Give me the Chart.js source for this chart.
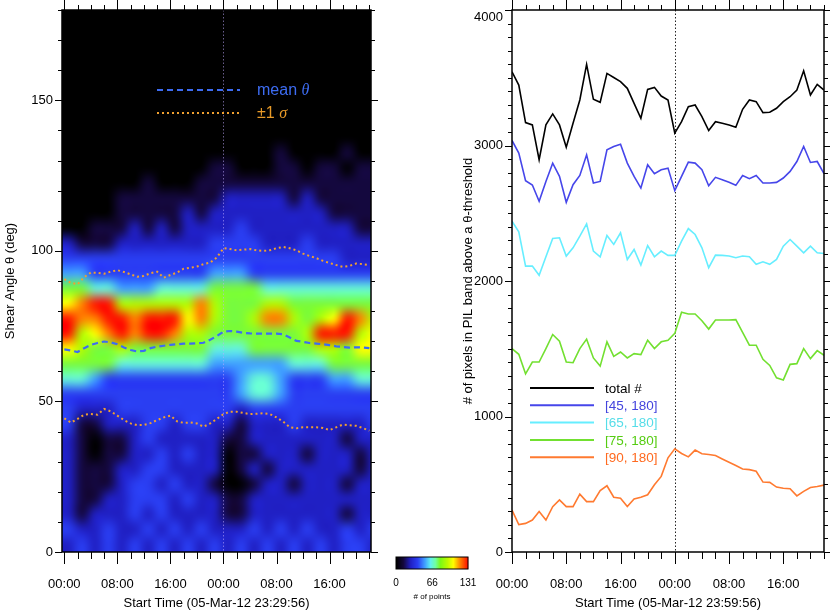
<!DOCTYPE html>
<html>
<head>
<meta charset="utf-8">
<script src="https://cdn.jsdelivr.net/npm/chart.js@4.4.1/dist/chart.umd.min.js"></script>
<style>
  body { margin: 0; background: #fff; width: 830px; height: 615px; position: relative; overflow: hidden; }
  #left { position: absolute; left: 0; top: 0; }
  #right { position: absolute; left: 420px; top: 0; }
</style>
</head>
<body>
<canvas id="left" width="500" height="615"></canvas>
<canvas id="right" width="410" height="615"></canvas>
<script>
// hours after 00:00 of 06-Mar
const hours = [0,1,2,3,4,5,6,7,8,9,10,11,12,13,14,15,16,17,18,19,20,21,22,23,
  24,25,26,27,28,29,30,31,32,33,34,35,36,37,38,39,40,41,42,43,44,45,46];

// right panel: # of pixels above each threshold
const totalCount = [3544,3446,3169,3152,2895,3152,3233,3152,2988,3164,3336,3598,3341,3319,3532,3502,
  3471,3422,3311,3201,3414,3429,3365,3336,3091,3176,3287,3299,3213,3110,3176,3164,3152,3135,3267,3336,
  3324,3243,3245,3275,3324,3360,3409,3551,3373,3451,3409];
const count45 = [3037,2944,2740,2708,2588,2735,2870,2772,2581,2711,2779,2931,2723,2735,2968,2993,
  3010,2870,2772,2686,2858,2792,2821,2833,2667,2772,2877,2870,2821,2703,2765,2748,2728,2706,2779,2755,
  2779,2723,2723,2728,2760,2809,2882,2993,2875,2882,2792];
const count65 = [2441,2363,2110,2110,2042,2179,2314,2319,2184,2245,2331,2422,2221,2179,2336,2270,
  2355,2159,2233,2118,2262,2179,2221,2189,2189,2294,2387,2343,2245,2098,2191,2189,2184,2172,2184,2179,
  2123,2142,2123,2159,2257,2306,2257,2208,2257,2208,2203];
const count75 = [1501,1459,1315,1402,1402,1501,1605,1556,1402,1397,1501,1571,1432,1372,1551,1444,
  1476,1432,1464,1457,1563,1501,1551,1563,1613,1769,1757,1757,1707,1645,1712,1712,1712,1715,1620,1526,
  1526,1422,1377,1285,1270,1385,1390,1501,1427,1486,1452];
const count90 = [310,203,211,236,298,236,335,385,335,335,427,372,372,454,489,404,
  397,335,392,404,422,496,558,695,762,727,702,752,725,720,712,687,663,638,613,608,
  596,516,514,479,471,467,414,447,476,484,494];
const seriesNames = ['total #', '[45, 180]', '[65, 180]', '[75, 180]', '[90, 180]'];

// left panel: mean shear angle and +/- 1 sigma
const meanTheta = [67.3,66.9,66.4,67.7,68.8,69.4,69.9,69.6,69.0,67.9,67.1,66.6,66.8,67.7,68.2,68.5,
  68.8,69.0,69.2,69.2,69.3,69.5,70.5,71.7,73.2,73.4,73.2,72.8,72.6,72.5,72.5,72.5,72.5,72.3,71.2,70.1,
  69.8,69.4,69.2,69.0,68.7,68.3,68.1,67.9,68.0,67.9,67.7];
const sigmaUpper = [90.6,89.4,88.9,91.3,92.8,92.7,92.4,93.1,93.6,93.0,92.2,91.4,91.7,92.6,93.1,91.1,
  92.0,92.8,94.1,94.4,94.8,95.6,96.1,97.8,100.9,100.6,100.2,100.4,100.6,100.2,100.0,100.2,100.9,101.3,
  100.9,100.2,99.1,98.3,97.6,96.7,96.0,95.3,94.7,95.0,95.8,95.6,95.3];
const sigmaLower = [44.4,43.0,44.2,45.6,45.8,45.6,47.5,46.7,45.3,43.8,42.7,42.1,42.2,42.8,43.8,44.7,
  45.3,43.4,42.9,43.0,42.7,41.6,42.7,44.2,45.8,46.6,46.6,46.2,45.8,45.9,46.1,45.8,44.7,43.3,41.4,41.1,
  41.4,41.4,41.4,41.2,40.5,41.4,42.3,42.1,41.9,41.2,40.3];

// 2D histogram: one string per 5-deg angle bin (180 at top), one char per 2-h time bin,
// value = tenths of the max count (0..9, a = 10)
const heatRows = [
  '000000000000000000000000',
  '000000000000000000000000',
  '000000000000000000000000',
  '000000000000000000000000',
  '000000000000000000000000',
  '000000000000000000000000',
  '000000000000000000000000',
  '000000000000000000000000',
  '000000000000000000000000',
  '000000000000000010000100',
  '000000000001100011011011',
  '000000100011111111111111',
  '000011111111222221211111',
  '000011111212222222221111',
  '001112121222232222222211',
  '211122222223333222322222',
  '333333333333333333333222',
  '443333333334443333333333',
  '665544455556666555555555',
  '89aa77777797666776666666',
  'a99aa9aaa897667997678a97',
  'a789a9aa97766666667aaa78',
  '876676666665556666677688',
  '666655555554444445556666',
  '554333333333345543334455',
  '333333333333345543333333',
  '322233333333323333333333',
  '311222332332212223222223',
  '210112322222112222222122',
  '210112232322011222122212',
  '211122332222012122222212',
  '211123323221001221222122',
  '211223332322112222222222',
  '212223232222112222222122',
  '322322323232223232322323',
  '232323232323232323232332'
];
const maxCount = 131;
const angleBin = 5;
const timeBin = 2;
const timeStart = -0.35;

const xTickHours = [0, 8, 16, 24, 32, 40];
const leftYTicks = [0, 50, 100, 150];
const rightYTicks = [0, 1000, 2000, 3000, 4000];
const colorbarTicks = [0, 66, 131];

Chart.defaults.font.family = '"Liberation Sans", Arial, Helvetica, sans-serif';
Chart.defaults.font.size = 13;
Chart.defaults.color = '#000';
Chart.defaults.animation = false;

const hourLabel = v => String(((v % 24) + 24) % 24).padStart(2, '0') + ':00';

const cmapStops = [
  [0.00, [0, 0, 0]],
  [0.10, [20, 8, 62]],
  [0.20, [32, 32, 196]],
  [0.30, [42, 62, 242]],
  [0.40, [64, 160, 255]],
  [0.48, [96, 240, 240]],
  [0.55, [112, 255, 160]],
  [0.62, [124, 250, 20]],
  [0.72, [190, 250, 0]],
  [0.80, [255, 255, 0]],
  [0.88, [255, 150, 0]],
  [1.00, [255, 20, 0]]
];
function colormapRGB(t) {
  t = Math.max(0, Math.min(1, t));
  for (let i = 1; i < cmapStops.length; i++) {
    const [t1, c1] = cmapStops[i];
    const [t0, c0] = cmapStops[i - 1];
    if (t <= t1) {
      const f = (t - t0) / (t1 - t0);
      return c0.map((v, k) => Math.round(v + (c1[k] - v) * f));
    }
  }
  return [255, 20, 0];
}
const colormap = t => { const c = colormapRGB(t); return `rgb(${c[0]},${c[1]},${c[2]})`; };

const toXY = arr => arr.map((v, i) => ({ x: hours[i], y: v }));

// histogram cells -> small image, stretched over the bins' pixel extent
const heatmapPlugin = {
  id: 'heatmap',
  beforeDatasetsDraw(chart) {
    const { ctx, chartArea: a, scales: { x, y } } = chart;
    const cols = heatRows[0].length, rows = heatRows.length;
    const off = document.createElement('canvas');
    off.width = cols;
    off.height = rows;
    const octx = off.getContext('2d');
    const img = octx.createImageData(cols, rows);
    heatRows.forEach((row, r) => {
      for (let c = 0; c < cols; c++) {
        const count = parseInt(row[c], 16) / 10 * maxCount;
        const rgb = colormapRGB(count / maxCount);
        const k = (r * cols + c) * 4;
        img.data[k] = rgb[0]; img.data[k + 1] = rgb[1]; img.data[k + 2] = rgb[2]; img.data[k + 3] = 255;
      }
    });
    octx.putImageData(img, 0, 0);
    const x0 = x.getPixelForValue(timeStart);
    const x1 = x.getPixelForValue(timeStart + cols * timeBin);
    const y0 = y.getPixelForValue(180);
    const y1 = y.getPixelForValue(180 - rows * angleBin);
    ctx.save();
    ctx.beginPath();
    ctx.rect(a.left, a.top, a.width, a.height);
    ctx.clip();
    ctx.imageSmoothingEnabled = true;
    ctx.imageSmoothingQuality = 'high';
    ctx.drawImage(off, x0, y0, x1 - x0, y1 - y0);
    ctx.restore();
  }
};

const midnightLine = color => ({
  id: 'midnight',
  beforeDatasetsDraw(chart) {
    const { ctx, chartArea: a, scales: { x } } = chart;
    const px = Math.round(x.getPixelForValue(24)) + 0.5;
    ctx.save();
    ctx.strokeStyle = color;
    ctx.lineWidth = 1;
    ctx.setLineDash([1.5, 2]);
    ctx.beginPath();
    ctx.moveTo(px, a.top);
    ctx.lineTo(px, a.bottom);
    ctx.stroke();
    ctx.restore();
  }
});

// box with outward major/minor ticks on all four sides
const frame = (xMajor, xMinor, yMajor, yMinor) => ({
  id: 'frame',
  afterDraw(chart) {
    const { ctx, chartArea: a, scales: { x, y } } = chart;
    const seg = (x0, y0, x1, y1) => { ctx.beginPath(); ctx.moveTo(x0, y0); ctx.lineTo(x1, y1); ctx.stroke(); };
    ctx.save();
    ctx.strokeStyle = '#000';
    ctx.lineWidth = 1;
    for (let v = Math.ceil(x.min / xMinor) * xMinor; v <= x.max + 1e-9; v += xMinor) {
      const px = Math.round(x.getPixelForValue(v)) + 0.5;
      const major = Math.abs(v % xMajor) < 1e-9;
      seg(px, a.bottom, px, a.bottom + (major ? 12 : 7));
      seg(px, a.top, px, a.top - (major ? 10 : 5));
    }
    for (let v = Math.ceil(y.min / yMinor) * yMinor; v <= y.max + 1e-9; v += yMinor) {
      const py = Math.round(y.getPixelForValue(v)) + 0.5;
      const major = Math.abs(v % yMajor) < 1e-9;
      seg(a.left, py, a.left - (major ? 7 : 4), py);
      seg(a.right, py, a.right + (major ? 7 : 4), py);
    }
    ctx.lineWidth = 1.5;
    ctx.strokeRect(a.left, a.top, a.right - a.left, a.bottom - a.top);
    ctx.restore();
  }
});

function drawMixed(ctx, parts, x, y, size) {
  parts.forEach(([txt, italic]) => {
    ctx.font = italic ? `italic ${size}px "Liberation Serif", "DejaVu Serif", serif`
                      : `${size}px "Liberation Sans", Arial, sans-serif`;
    ctx.fillText(txt, x, y);
    x += ctx.measureText(txt).width;
  });
}

const leftLegend = {
  id: 'leftLegend',
  afterDraw(chart) {
    const { ctx, chartArea: a } = chart;
    const ds = chart.data.datasets;
    const x0 = a.left + 95, x1 = a.left + 178, tx = a.left + 195;
    const rows = [
      { d: ds[0], y: a.top + 80, parts: [['mean ', false], ['θ', true]] },
      { d: ds[1], y: a.top + 103, parts: [['±1 ', false], ['σ', true]] }
    ];
    ctx.save();
    rows.forEach(r => {
      ctx.strokeStyle = r.d.borderColor;
      ctx.lineWidth = r.d.borderWidth;
      ctx.setLineDash(r.d.borderDash);
      ctx.beginPath();
      ctx.moveTo(x0, r.y);
      ctx.lineTo(x1, r.y);
      ctx.stroke();
      ctx.fillStyle = r.d.legendColor;
      ctx.textBaseline = 'middle';
      drawMixed(ctx, r.parts, tx, r.y + 1, 16);
    });
    ctx.restore();
  }
};

const colorbar = {
  id: 'colorbar',
  afterDraw(chart) {
    const { ctx, chartArea: a } = chart;
    const left = a.right + 25, right = left + 72, top = 557, bottom = 569;
    ctx.save();
    for (let i = 0; i < right - left; i++) {
      ctx.fillStyle = colormap(i / (right - left - 1));
      ctx.fillRect(left + i, top, 1.2, bottom - top);
    }
    ctx.strokeStyle = '#000';
    ctx.lineWidth = 1;
    ctx.strokeRect(left, top, right - left, bottom - top);
    ctx.fillStyle = '#000';
    ctx.textAlign = 'center';
    ctx.textBaseline = 'middle';
    ctx.font = '10px "Liberation Sans", Arial, sans-serif';
    colorbarTicks.forEach(v => {
      ctx.fillText(String(v), left + (right - left) * v / maxCount, 583);
    });
    ctx.font = '8px "Liberation Sans", Arial, sans-serif';
    ctx.fillText('# of points', left + (right - left) / 2, 597);
    ctx.restore();
  }
};

const rightLegend = {
  id: 'rightLegend',
  afterDraw(chart) {
    const { ctx, chartArea: a } = chart;
    ctx.save();
    ctx.font = '13.5px "Liberation Sans", Arial, sans-serif';
    ctx.textBaseline = 'middle';
    chart.data.datasets.forEach((d, i) => {
      const y = a.top + 378 + i * 17.3;
      ctx.strokeStyle = d.borderColor;
      ctx.lineWidth = 2;
      ctx.beginPath();
      ctx.moveTo(a.left + 18, y);
      ctx.lineTo(a.left + 82, y);
      ctx.stroke();
      ctx.fillStyle = d.legendColor;
      ctx.fillText(d.label, a.left + 93, y + 1);
    });
    ctx.restore();
  }
};

const xAxis = (min, max, title) => ({
  type: 'linear', min, max,
  grid: { display: false, drawTicks: false },
  border: { display: false },
  afterBuildTicks: s => { s.ticks = xTickHours.map(v => ({ value: v })); },
  afterFit: s => { s.height = 63; s.paddingLeft = 0; s.paddingRight = 0; },
  ticks: { autoSkip: false, maxRotation: 0, padding: 25, font: { size: 13 }, callback: v => hourLabel(v) },
  title: { display: true, text: title, padding: { top: 0, bottom: 4 }, font: { size: 13 } }
});

// the label at the very top of the axis sits just below its tick, as in the original plot
const yAxis = (max, tickVals, width, title) => ({
  min: 0, max,
  grid: { display: false, drawTicks: false },
  border: { display: false },
  afterBuildTicks: s => { s.ticks = tickVals.map(v => ({ value: v })); },
  afterFit: s => { s.width = width; s.paddingTop = 0; s.paddingBottom = 0; },
  ticks: { padding: 9, font: { size: 13 }, callback: v => (v === max ? ['', String(v)] : String(v)) },
  title: { display: true, text: title, padding: { top: 3, bottom: 0 }, font: { size: 13 } }
});

new Chart(document.getElementById('left'), {
  type: 'line',
  data: {
    datasets: [
      { label: 'mean θ', data: toXY(meanTheta), borderColor: '#3d6cf2', legendColor: '#3d6cf2',
        borderWidth: 2.2, borderDash: [6, 4], pointRadius: 0, tension: 0 },
      { label: '+1 σ', data: toXY(sigmaUpper), borderColor: '#f0a030', legendColor: '#e89a28',
        borderWidth: 2, borderDash: [2, 3], pointRadius: 0, tension: 0 },
      { label: '-1 σ', data: toXY(sigmaLower), borderColor: '#f0a030', legendColor: '#e89a28',
        borderWidth: 2, borderDash: [2, 3], pointRadius: 0, tension: 0 }
    ]
  },
  options: {
    responsive: false,
    devicePixelRatio: 1,
    layout: { padding: { top: 10, right: 129, bottom: 0, left: 0 } },
    plugins: { legend: { display: false }, tooltip: { enabled: false } },
    scales: {
      x: xAxis(timeStart, 46.25, 'Start Time (05-Mar-12 23:29:56)'),
      y: yAxis(180, leftYTicks, 62, 'Shear Angle θ (deg)')
    }
  },
  plugins: [heatmapPlugin, midnightLine('rgba(190,170,255,0.55)'), frame(8, 2, 50, 10), leftLegend, colorbar]
});

const rightColors = ['#000000', '#4646ea', '#66eeff', '#72e030', '#ff7a30'];
const legendColors = ['#000000', '#4444dd', '#55dde8', '#55cc11', '#ff6a20'];
const rightSeries = [totalCount, count45, count65, count75, count90];

new Chart(document.getElementById('right'), {
  type: 'line',
  data: {
    datasets: rightSeries.map((s, i) => ({
      label: seriesNames[i], data: toXY(s), borderColor: rightColors[i], legendColor: legendColors[i],
      borderWidth: 1.6, pointRadius: 0, tension: 0
    }))
  },
  options: {
    responsive: false,
    devicePixelRatio: 1,
    layout: { padding: { top: 10, right: 6, bottom: 0, left: 38 } },
    plugins: { legend: { display: false }, tooltip: { enabled: false } },
    scales: {
      x: xAxis(0, 46, 'Start Time (05-Mar-12 23:59:56)'),
      y: yAxis(4000, rightYTicks, 54, '# of pixels in PIL band above a θ-threshold')
    }
  },
  plugins: [midnightLine('#222'), frame(8, 2, 1000, 100), rightLegend]
});
</script>
</body>
</html>
